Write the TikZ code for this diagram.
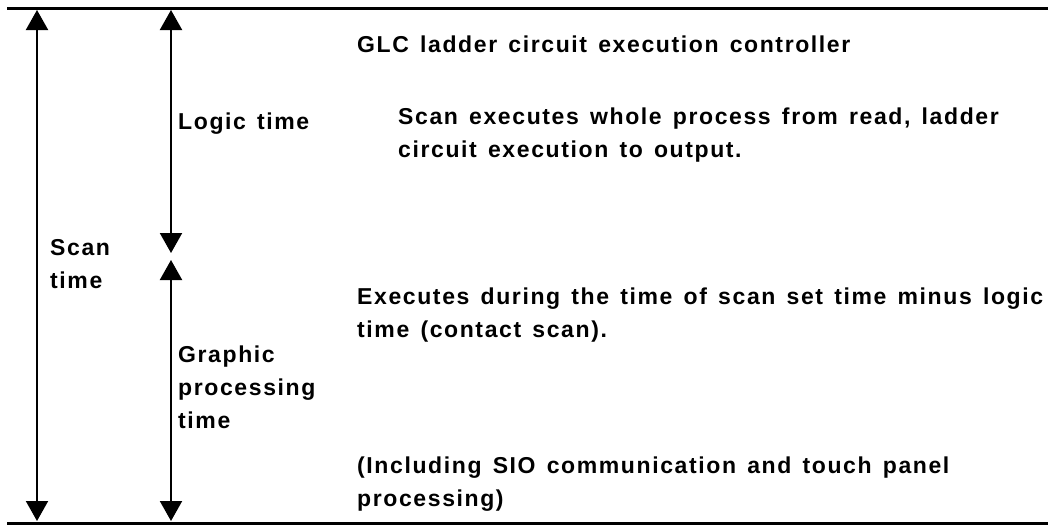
\documentclass[tikz,border=0pt]{standalone}
\usepackage{fontspec}
\newfontfamily\labelfont{Liberation Sans}[LetterSpace=7, WordSpace=1.4]
\usetikzlibrary{arrows.meta}
\tikzset{
	txt/.style={anchor=base west, inner sep=0pt, align=left, font=\labelfont\fontsize{23}{33}\selectfont\bfseries},
	timearrow/.style={line width=2pt, {Triangle[width=22pt,length=20pt]}-{Triangle[width=22pt,length=20pt]}},
	edgeline/.style={line width=3pt}
}
\begin{document}
\begin{tikzpicture}[x=1pt, y=-1pt]
	\useasboundingbox (0,0) rectangle (1048,530);
	\begin{scope}
		\coordinate (topleft) at (7,8);
		\coordinate (topright) at (1048,8);
		\coordinate (botleft) at (7,523);
		\coordinate (botright) at (1048,523);
		\coordinate (scantop) at (37,10);
		\coordinate (scanbot) at (37,521);
		\coordinate (logictop) at (171,10);
		\coordinate (logicbot) at (171,253);
		\coordinate (graphtop) at (171,260);
		\coordinate (graphbot) at (171,521);

		\draw[edgeline] (topleft) -- (topright);
		\draw[edgeline] (botleft) -- (botright);
		\draw[timearrow] (scantop) -- (scanbot);
		\draw[timearrow] (logictop) -- (logicbot);
		\draw[timearrow] (graphtop) -- (graphbot);

		\node[txt] (glc) at (357,52) {GLC ladder circuit execution controller};
		\node[txt] (logic) at (178,129) {Logic time};
		\node[txt] (scanexec) at (398,157) {Scan executes whole process from read, ladder\\circuit execution to output.};
		\node[txt] (scan) at (50,288) {Scan\\time};
		\node[txt] (during) at (357,337) {Executes during the time of scan set time minus logic\\time (contact scan).};
		\node[txt] (graphic) at (178,428) {Graphic\\processing\\time};
		\node[txt] (sio) at (357,506) {(Including SIO communication and touch panel\\processing)};
	\end{scope}
\end{tikzpicture}
\end{document}
